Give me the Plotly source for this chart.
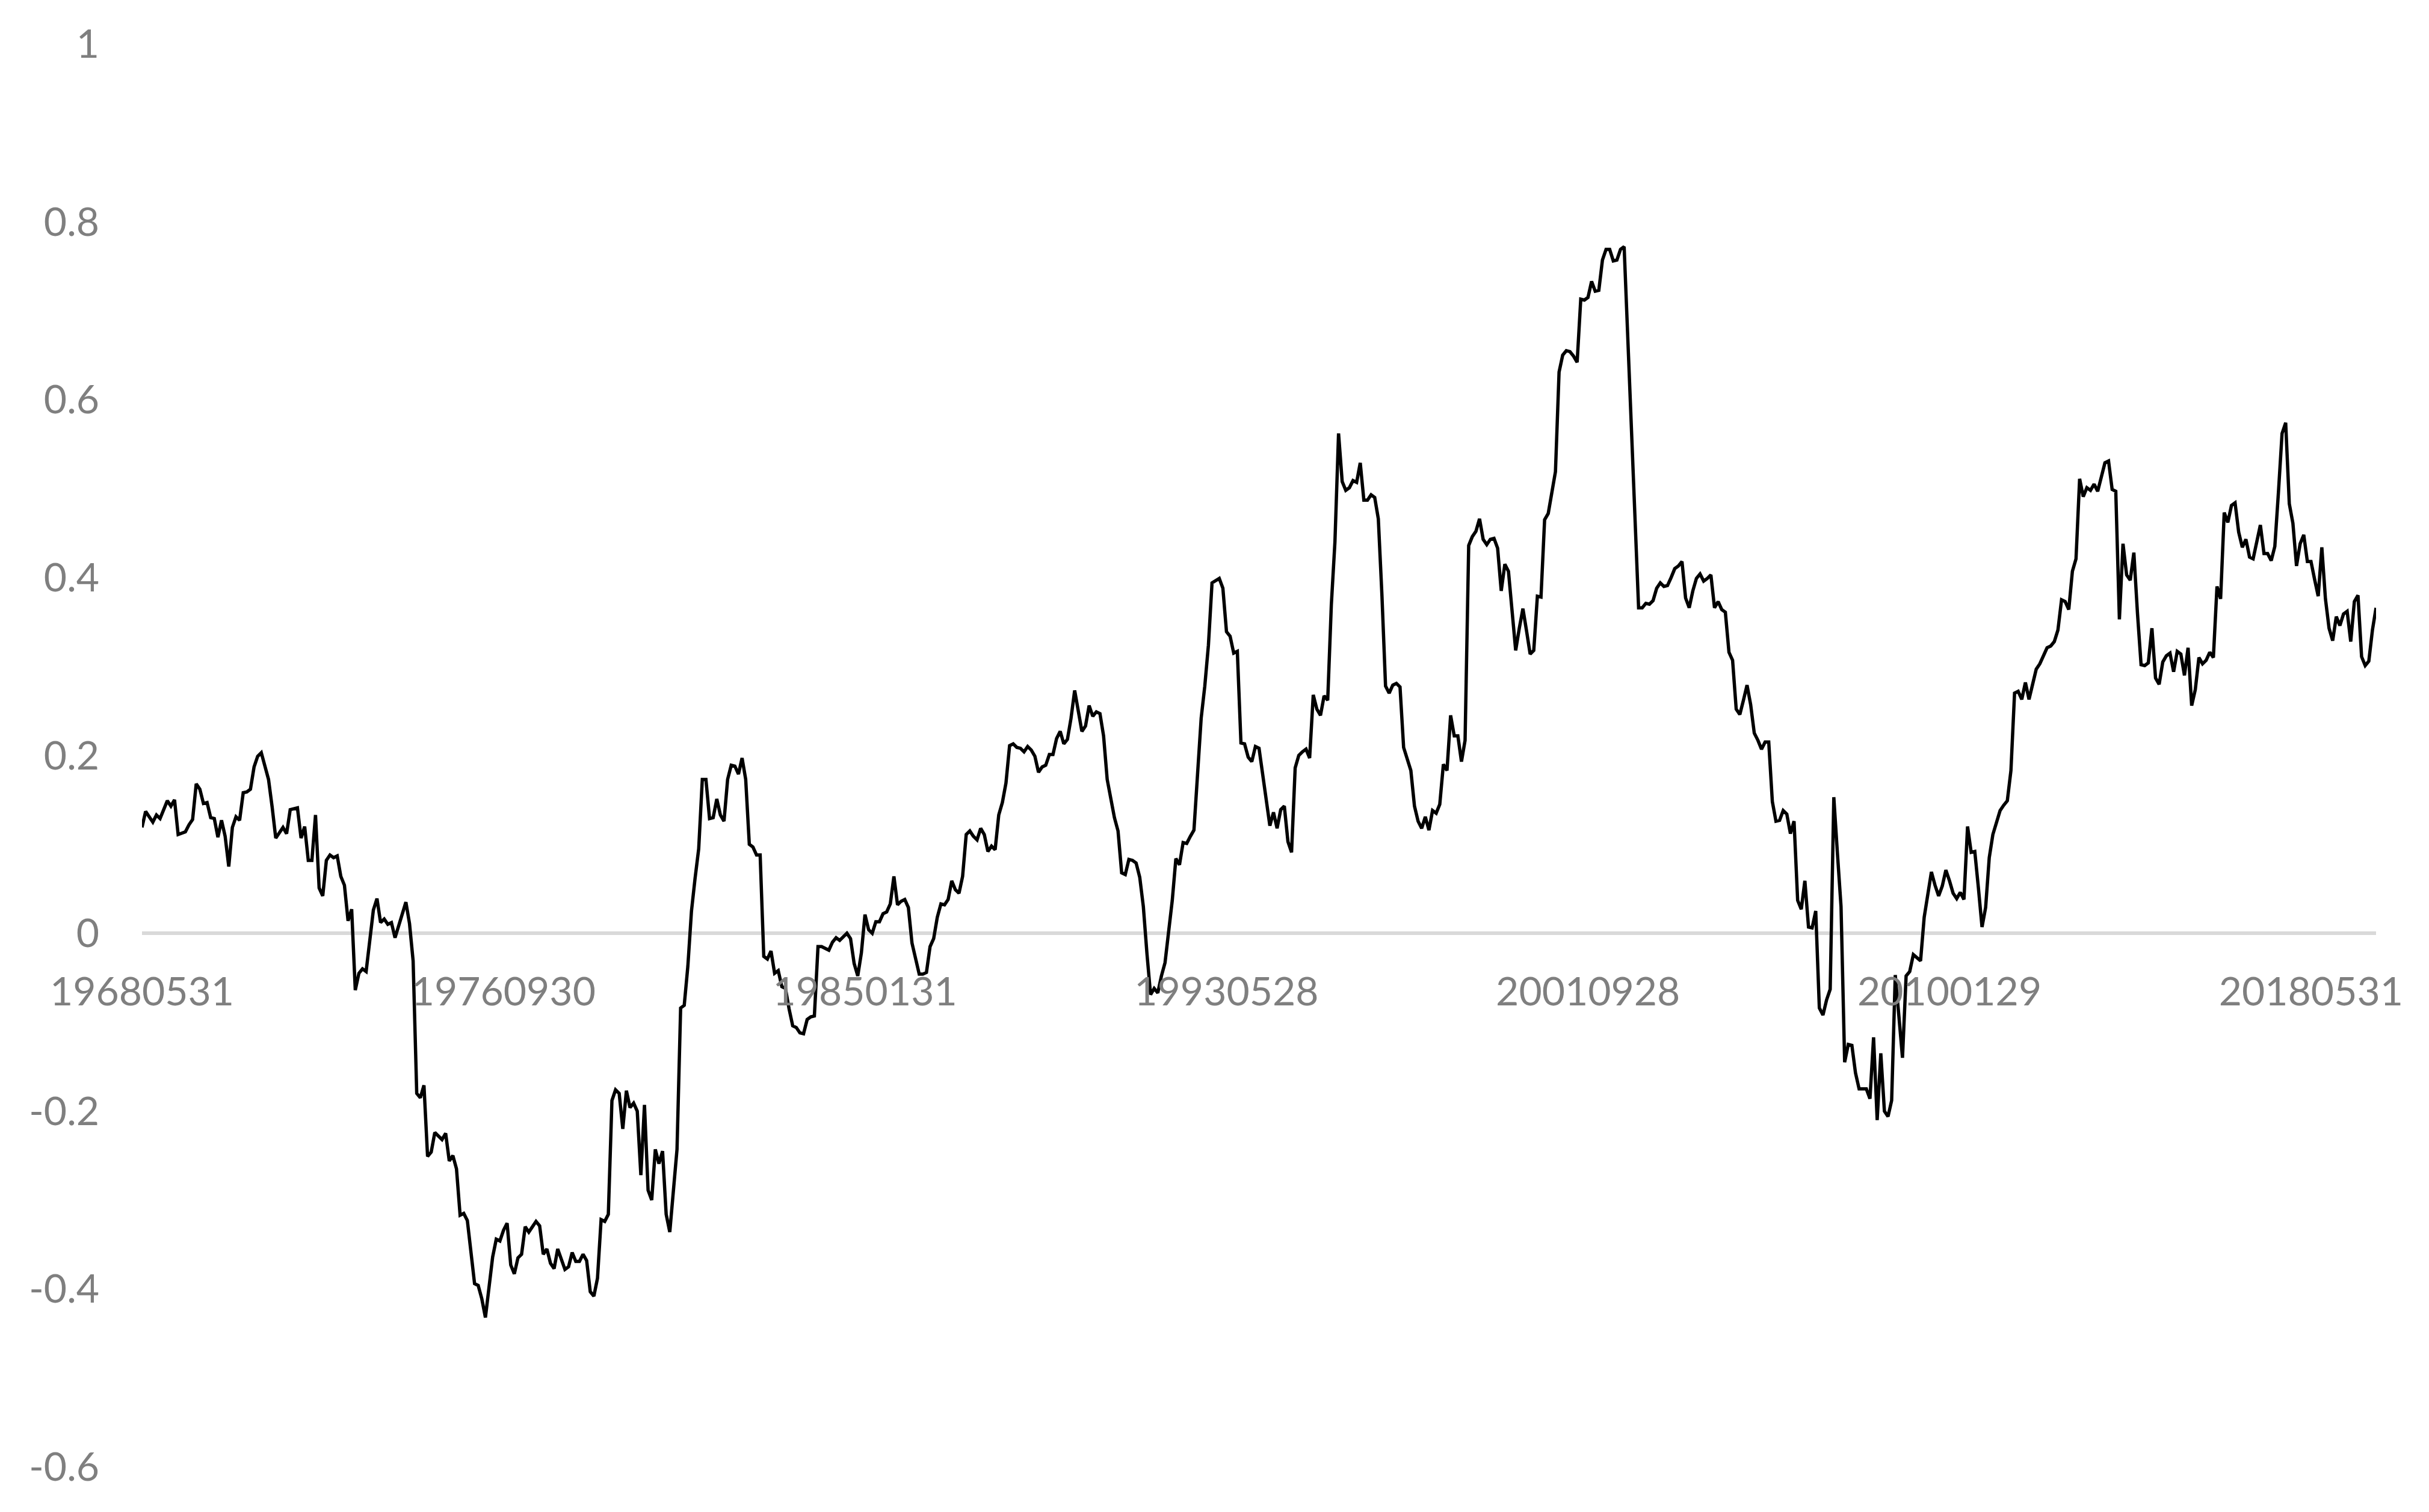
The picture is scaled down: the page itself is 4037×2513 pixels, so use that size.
import plotly.graph_objects as go

# month offset since 1968-05 (monthly series)
months = [
    0, 1, 3, 4, 5, 7, 8, 9, 10, 12,
    13, 14, 15, 16, 17, 18, 19, 20, 21, 22,
    23, 24, 25, 26, 27, 28, 29, 30, 31, 32,
    33, 34, 35, 36, 37, 39, 40, 41, 43, 44,
    45, 46, 47, 48, 49, 50, 51, 52, 53, 54,
    55, 56, 57, 58, 59, 60, 61, 62, 64, 65,
    66, 67, 68, 69, 70, 73, 74, 75, 76, 77,
    78, 79, 80, 81, 83, 84, 85, 86, 87, 88,
    89, 90, 92, 93, 94, 95, 97, 98, 99, 100,
    101, 102, 103, 104, 105, 106, 107, 109, 110, 111,
    112, 113, 114, 115, 117, 118, 119, 120, 121, 122,
    123, 124, 125, 126, 127, 128, 129, 130, 131, 132,
    133, 134, 135, 136, 137, 138, 139, 140, 141, 142,
    143, 144, 145, 146, 147, 148, 149, 150, 151, 152,
    153, 154, 155, 156, 157, 158, 159, 160, 161, 162,
    163, 164, 165, 166, 167, 168, 169, 170, 171, 172,
    173, 174, 175, 176, 177, 178, 179, 180, 181, 182,
    183, 184, 185, 186, 187, 188, 190, 191, 192, 193,
    195, 196, 197, 198, 199, 200, 201, 202, 203, 204,
    205, 206, 207, 208, 209, 210, 211, 212, 213, 214,
    215, 216, 217, 218, 219, 220, 221, 222, 223, 224,
    225, 226, 227, 228, 229, 230, 231, 232, 233, 234,
    235, 236, 237, 238, 239, 240, 241, 242, 243, 244,
    245, 246, 247, 248, 249, 250, 251, 252, 253, 254,
    255, 256, 257, 258, 259, 260, 261, 262, 263, 264,
    265, 266, 267, 268, 269, 270, 271, 272, 273, 274,
    275, 276, 277, 278, 279, 280, 281, 282, 283, 284,
    285, 286, 287, 288, 289, 290, 291, 292, 293, 294,
    295, 296, 297, 298, 299, 300, 301, 302, 303, 304,
    305, 306, 307, 308, 309, 310, 311, 312, 313, 314,
    315, 316, 317, 318, 319, 320, 321, 322, 323, 324,
    325, 326, 327, 328, 329, 330, 331, 332, 333, 334,
    335, 336, 337, 338, 339, 340, 341, 342, 343, 344,
    345, 346, 347, 348, 349, 350, 351, 352, 353, 354,
    355, 356, 357, 358, 359, 360, 361, 362, 363, 364,
    365, 366, 367, 368, 369, 370, 371, 372, 373, 374,
    375, 376, 377, 378, 379, 380, 381, 382, 383, 384,
    385, 386, 387, 388, 389, 390, 391, 392, 393, 394,
    395, 396, 397, 398, 399, 400, 401, 402, 403, 404,
    405, 406, 407, 408, 409, 410, 411, 412, 413, 414,
    415, 416, 417, 418, 419, 420, 421, 422, 423, 424,
    425, 426, 427, 428, 429, 430, 431, 432, 433, 434,
    435, 436, 437, 438, 439, 440, 441, 442, 443, 444,
    445, 446, 447, 448, 449, 450, 451, 452, 453, 454,
    455, 456, 457, 458, 459, 460, 461, 462, 463, 464,
    465, 466, 467, 468, 469, 470, 471, 472, 473, 474,
    475, 476, 477, 478, 479, 480, 481, 482, 483, 484,
    485, 486, 487, 488, 489, 490, 491, 492, 493, 494,
    495, 496, 497, 498, 499, 500, 501, 502, 503, 504,
    505, 506, 507, 508, 509, 510, 511, 512, 513, 514,
    515, 516, 517, 518, 519, 520, 521, 522, 523, 524,
    525, 526, 527, 528, 529, 530, 531, 532, 533, 534,
    535, 536, 537, 538, 539, 540, 541, 542, 543, 544,
    545, 546, 547, 548, 549, 550, 551, 552, 553, 554,
    555, 556, 557, 558, 559, 560, 561, 562, 563, 564,
    565, 566, 567, 568, 569, 570, 571, 572, 573, 574,
    575, 576, 577, 578, 579, 580, 581, 582, 583, 584,
    585, 586, 587, 588, 589, 590, 591, 592, 593, 594,
    595, 596, 597, 598, 599, 600, 601, 602, 603, 604,
    605, 606, 607, 608, 609, 610, 611, 612, 613, 614,
    615, 616, 617, 618,
]

values = [
    0.119, 0.137, 0.125, 0.133, 0.129, 0.149, 0.143, 0.150, 0.111, 0.114,
    0.122, 0.128, 0.168, 0.162, 0.146, 0.147, 0.130, 0.129, 0.108, 0.127,
    0.109, 0.075, 0.119, 0.131, 0.127, 0.158, 0.159, 0.162, 0.187, 0.199,
    0.203, 0.186, 0.173, 0.142, 0.107, 0.119, 0.112, 0.139, 0.141, 0.107,
    0.120, 0.082, 0.082, 0.133, 0.051, 0.042, 0.082, 0.088, 0.085, 0.087,
    0.064, 0.054, 0.014, 0.027, -0.064, -0.045, -0.040, -0.043, 0.026, 0.039,
    0.012, 0.016, 0.010, 0.012, -0.005, 0.035, 0.011, -0.031, -0.180, -0.185,
    -0.171, -0.251, -0.246, -0.224, -0.232, -0.225, -0.256, -0.250, -0.265, -0.317,
    -0.315, -0.323, -0.394, -0.396, -0.411, -0.432, -0.364, -0.344, -0.346, -0.334,
    -0.326, -0.373, -0.383, -0.365, -0.361, -0.330, -0.336, -0.324, -0.329, -0.361,
    -0.355, -0.371, -0.377, -0.355, -0.378, -0.375, -0.359, -0.369, -0.369, -0.361,
    -0.368, -0.403, -0.408, -0.388, -0.322, -0.324, -0.316, -0.188, -0.176, -0.180,
    -0.220, -0.177, -0.196, -0.191, -0.200, -0.272, -0.193, -0.289, -0.300, -0.243,
    -0.259, -0.245, -0.316, -0.336, -0.290, -0.243, -0.084, -0.081, -0.037, 0.025,
    0.062, 0.095, 0.173, 0.173, 0.129, 0.130, 0.151, 0.133, 0.126, 0.173,
    0.189, 0.188, 0.179, 0.197, 0.173, 0.100, 0.097, 0.088, 0.088, -0.026,
    -0.029, -0.020, -0.045, -0.042, -0.060, -0.062, -0.085, -0.104, -0.106, -0.112,
    -0.113, -0.097, -0.094, -0.093, -0.015, -0.015, -0.019, -0.010, -0.005, -0.008,
    0.000, -0.006, -0.034, -0.048, -0.022, 0.021, 0.004, 0.000, 0.013, 0.013,
    0.022, 0.024, 0.033, 0.064, 0.032, 0.036, 0.038, 0.029, -0.011, -0.027,
    -0.046, -0.046, -0.044, -0.015, -0.006, 0.018, 0.033, 0.032, 0.038, 0.059,
    0.049, 0.045, 0.064, 0.111, 0.115, 0.109, 0.105, 0.118, 0.111, 0.092,
    0.098, 0.094, 0.133, 0.147, 0.169, 0.211, 0.213, 0.209, 0.208, 0.204,
    0.210, 0.206, 0.199, 0.181, 0.187, 0.189, 0.201, 0.201, 0.219, 0.227,
    0.213, 0.218, 0.242, 0.273, 0.249, 0.227, 0.233, 0.256, 0.244, 0.249,
    0.247, 0.222, 0.173, 0.153, 0.130, 0.115, 0.068, 0.066, 0.083, 0.082,
    0.079, 0.063, 0.030, -0.023, -0.069, -0.062, -0.067, -0.048, -0.033, 0.002,
    0.037, 0.084, 0.077, 0.102, 0.101, 0.109, 0.116, 0.179, 0.242, 0.278,
    0.324, 0.394, 0.396, 0.399, 0.388, 0.339, 0.334, 0.315, 0.317, 0.214,
    0.213, 0.198, 0.193, 0.210, 0.208, 0.179, 0.147, 0.121, 0.136, 0.118,
    0.139, 0.143, 0.103, 0.091, 0.186, 0.200, 0.204, 0.207, 0.197, 0.268,
    0.252, 0.245, 0.267, 0.262, 0.369, 0.440, 0.562, 0.508, 0.498, 0.501,
    0.509, 0.507, 0.529, 0.487, 0.487, 0.493, 0.490, 0.466, 0.380, 0.278,
    0.270, 0.279, 0.281, 0.277, 0.209, 0.195, 0.183, 0.143, 0.126, 0.118,
    0.131, 0.116, 0.138, 0.135, 0.145, 0.190, 0.183, 0.245, 0.222, 0.222,
    0.193, 0.217, 0.436, 0.446, 0.452, 0.466, 0.443, 0.437, 0.443, 0.444,
    0.433, 0.385, 0.415, 0.407, 0.362, 0.318, 0.343, 0.365, 0.340, 0.314,
    0.318, 0.379, 0.378, 0.465, 0.472, 0.495, 0.519, 0.631, 0.650, 0.655,
    0.654, 0.649, 0.642, 0.713, 0.712, 0.715, 0.733, 0.722, 0.723, 0.757,
    0.769, 0.769, 0.756, 0.757, 0.769, 0.772, 0.670, 0.571, 0.467, 0.366,
    0.366, 0.371, 0.370, 0.374, 0.388, 0.394, 0.390, 0.391, 0.400, 0.410,
    0.413, 0.418, 0.377, 0.366, 0.385, 0.399, 0.404, 0.396, 0.399, 0.403,
    0.366, 0.373, 0.364, 0.361, 0.316, 0.307, 0.252, 0.246, 0.262, 0.279,
    0.257, 0.225, 0.217, 0.207, 0.215, 0.215, 0.148, 0.126, 0.127, 0.138,
    0.134, 0.112, 0.126, 0.037, 0.027, 0.059, 0.007, 0.006, 0.025, -0.084,
    -0.092, -0.075, -0.063, 0.153, 0.090, 0.030, -0.145, -0.125, -0.126, -0.157,
    -0.175, -0.175, -0.175, -0.186, -0.117, -0.210, -0.135, -0.200, -0.206, -0.188,
    -0.047, -0.093, -0.140, -0.048, -0.043, -0.024, -0.027, -0.031, 0.018, 0.045,
    0.069, 0.054, 0.042, 0.053, 0.071, 0.059, 0.045, 0.039, 0.046, 0.038,
    0.120, 0.091, 0.092, 0.051, 0.007, 0.029, 0.085, 0.111, 0.126, 0.138,
    0.144, 0.149, 0.183, 0.270, 0.272, 0.263, 0.282, 0.263, 0.280, 0.297,
    0.303, 0.312, 0.321, 0.323, 0.328, 0.341, 0.375, 0.373, 0.364, 0.407,
    0.421, 0.511, 0.491, 0.501, 0.498, 0.505, 0.497, 0.513, 0.529, 0.531,
    0.499, 0.497, 0.353, 0.438, 0.403, 0.397, 0.428, 0.360, 0.302, 0.301,
    0.304, 0.343, 0.287, 0.280, 0.305, 0.312, 0.315, 0.294, 0.317, 0.314,
    0.290, 0.321, 0.256, 0.274, 0.310, 0.303, 0.307, 0.316, 0.310, 0.390,
    0.376, 0.473, 0.462, 0.481, 0.484, 0.451, 0.434, 0.443, 0.423, 0.421,
    0.441, 0.459, 0.427, 0.427, 0.419, 0.435, 0.496, 0.562, 0.574, 0.483,
    0.461, 0.413, 0.438, 0.448, 0.418, 0.418, 0.398, 0.379, 0.434, 0.376,
    0.343, 0.329, 0.356, 0.346, 0.359, 0.362, 0.328, 0.373, 0.380, 0.311,
    0.301, 0.306, 0.341, 0.366,
]

assert len(months) == len(values)

# category labels shown every 100 months
x_tick_pos = [0, 100, 200, 300, 400, 500, 600]
x_tick_text = ["19680531", "19760930", "19850131", "19930528",
               "20010928", "20100129", "20180531"]

y_tick_vals = [1, 0.8, 0.6, 0.4, 0.2, 0, -0.2, -0.4, -0.6]
y_tick_text = ["1", "0.8", "0.6", "0.4", "0.2", "0", "-0.2", "-0.4", "-0.6"]

fig = go.Figure()
fig.add_trace(go.Scatter(x=months, y=values, mode="lines",
                         line=dict(color="black", width=5.5),
                         showlegend=False))

label_font = dict(family="Lato", size=66, color="#7f7f7f")

# the page body adds 8px around the figure, so size/margins allow for it
fig.update_layout(
    width=4029, height=2505,
    margin=dict(l=228, r=88, t=65, b=75),
    paper_bgcolor="white",
    plot_bgcolor="white",
    xaxis=dict(
        range=[0, 618],
        tickvals=x_tick_pos, ticktext=x_tick_text,
        tickfont=label_font,
        showgrid=False, zeroline=False, showline=False,
        ticks="",
        anchor="free",
        position=0.375,  # axis crosses at y = 0
        ticklabelstandoff=53,
    ),
    yaxis=dict(
        range=[-0.6, 1],
        tickvals=y_tick_vals, ticktext=y_tick_text,
        tickfont=label_font,
        showgrid=False,
        zeroline=True, zerolinecolor="#d9d9d9", zerolinewidth=6,
        showline=False, ticks="",
        ticklabelstandoff=70,
    ),
)

fig.write_html("out.html")
